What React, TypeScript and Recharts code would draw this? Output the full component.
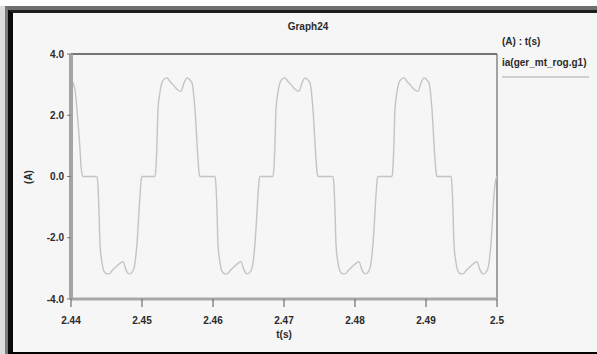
import { Line, LineChart, ReferenceLine, XAxis, YAxis } from "recharts";

// t(s) samples, one row per pulse
const time = [
  2.44, 2.44028, 2.44056, 2.44099, 2.44127, 2.44141, 2.44155, 2.44169,
  2.44366, 2.4438, 2.44394, 2.44408, 2.44436, 2.44465, 2.44507, 2.44535, 2.44577, 2.4462, 2.44676, 2.44732, 2.44774, 2.44817, 2.44845, 2.44887, 2.44929, 2.44972, 2.44986, 2.45,
  2.45183, 2.45197, 2.45211, 2.45225, 2.45253, 2.45282, 2.45324, 2.45352, 2.45394, 2.45437, 2.45493, 2.45549, 2.45591, 2.45634, 2.45662, 2.45704, 2.45746, 2.45789, 2.45803, 2.45817,
  2.46028, 2.46042, 2.46056, 2.4607, 2.46098, 2.46127, 2.46169, 2.46197, 2.46239, 2.46282, 2.46338, 2.46394, 2.46436, 2.46479, 2.46507, 2.46549, 2.46591, 2.46634, 2.46648, 2.46662,
  2.46845, 2.46859, 2.46873, 2.46887, 2.46915, 2.46944, 2.46986, 2.47014, 2.47056, 2.47099, 2.47155, 2.47211, 2.47253, 2.47296, 2.47324, 2.47366, 2.47408, 2.47451, 2.47465, 2.47479,
  2.4769, 2.47704, 2.47718, 2.47732, 2.4776, 2.47789, 2.47831, 2.47859, 2.47901, 2.47944, 2.48, 2.48056, 2.48098, 2.48141, 2.48169, 2.48211, 2.48253, 2.48296, 2.4831, 2.48324,
  2.48521, 2.48535, 2.48549, 2.48563, 2.48591, 2.4862, 2.48662, 2.4869, 2.48732, 2.48775, 2.48831, 2.48887, 2.48929, 2.48972, 2.49, 2.49042, 2.49084, 2.49127, 2.49141, 2.49155,
  2.49352, 2.49366, 2.4938, 2.49394, 2.49422, 2.49451, 2.49493, 2.49521, 2.49563, 2.49606, 2.49662, 2.49718, 2.4976, 2.49803, 2.49831, 2.49873, 2.49915, 2.49958, 2.49978, 2.5,
];

// ia(ger_mt_rog.g1) in A
const current = [
  3.17, 3.05, 2.84, 1.76, 0.88, 0.35, 0.08, 0,
  0, -0.3, -1.1, -2.2, -2.8, -3.1, -3.18, -3.18, -3.08, -2.98, -2.86, -2.78, -3.05, -3.18, -3.16, -3.0, -2.2, -0.6, -0.15, 0,
  0, 0.3, 1.1, 2.2, 2.75, 3.07, 3.2, 3.22, 3.1, 3.0, 2.85, 2.78, 3.05, 3.22, 3.18, 3.05, 2.2, 0.55, 0.15, 0,
  0, -0.3, -1.1, -2.2, -2.8, -3.1, -3.18, -3.18, -3.08, -2.98, -2.86, -2.78, -3.05, -3.18, -3.16, -3.0, -2.2, -0.6, -0.15, 0,
  0, 0.3, 1.1, 2.2, 2.75, 3.07, 3.2, 3.22, 3.1, 3.0, 2.85, 2.78, 3.05, 3.22, 3.18, 3.05, 2.2, 0.55, 0.15, 0,
  0, -0.3, -1.1, -2.2, -2.8, -3.1, -3.18, -3.18, -3.08, -2.98, -2.86, -2.78, -3.05, -3.18, -3.16, -3.0, -2.2, -0.6, -0.15, 0,
  0, 0.3, 1.1, 2.2, 2.75, 3.07, 3.2, 3.22, 3.1, 3.0, 2.85, 2.78, 3.05, 3.22, 3.18, 3.05, 2.2, 0.55, 0.15, 0,
  0, -0.3, -1.1, -2.2, -2.8, -3.1, -3.18, -3.18, -3.08, -2.98, -2.86, -2.78, -3.05, -3.18, -3.16, -3.0, -2.2, -0.6, -0.15, 0,
];

const xTicks = [2.44, 2.45, 2.46, 2.47, 2.48, 2.49, 2.5];
const yTicks = [-4, -2, 0, 2, 4];

const data = time.map((t, k) => ({ t, i: current[k] }));

const font = "'Liberation Sans', Arial, sans-serif";
const tickStyle = { fill: "#2a2a2a", fontSize: 10, fontWeight: 700, fontFamily: font };
const textStyle: React.CSSProperties = {
  position: "absolute",
  fontFamily: font,
  fontSize: 10,
  fontWeight: 700,
  color: "#2a2a2a",
  lineHeight: "12px",
  whiteSpace: "nowrap",
};

export default function App() {
  return (
    <div style={{ position: "absolute", left: 0, top: 0, width: 597, height: 354, background: "#fff", overflow: "hidden" }}>
      <div style={{ position: "absolute", left: 0, top: 6, width: 5, bottom: 0, background: "#dcdcdc" }} />
      <div
        style={{
          position: "absolute",
          left: 5,
          top: 6,
          right: 0,
          bottom: 0,
          borderTop: "4px solid #6e6e6e",
          borderLeft: "3px solid #7a7a7a",
        }}
      >
        <div
          style={{
            position: "absolute",
            inset: 0,
            borderTop: "3px solid #1c1c1c",
            borderLeft: "5px solid #0a0a0a",
            borderBottom: "2px solid #000",
            background: "#f6f6f6",
          }}
        />
      </div>

      <div style={{ ...textStyle, left: 0, width: 616, top: 21, textAlign: "center" }}>Graph24</div>
      <div style={{ ...textStyle, left: 502, top: 36 }}>(A) : t(s)</div>
      <div style={{ ...textStyle, left: 502, top: 57 }}>ia(ger_mt_rog.g1)</div>
      <div style={{ position: "absolute", left: 502, top: 76, width: 87, height: 2, background: "#cfcfcf" }} />
      <div
        style={{
          ...textStyle,
          left: 14,
          top: 171,
          width: 30,
          textAlign: "center",
          transform: "rotate(-90deg)",
        }}
      >
        (A)
      </div>
      <div style={{ ...textStyle, left: 264, width: 40, top: 329, textAlign: "center" }}>t(s)</div>

      <LineChart
        width={597}
        height={354}
        data={data}
        margin={{ top: 54, right: 100, bottom: 25, left: 0 }}
        style={{ position: "absolute", left: 0, top: 0 }}
      >
        <XAxis
          dataKey="t"
          type="number"
          domain={[2.44, 2.5]}
          ticks={xTicks}
          allowDataOverflow
          height={30}
          tickFormatter={(v: number) => String(v)}
          tick={tickStyle}
          tickSize={8}
          tickMargin={10}
          axisLine={{ stroke: "#a8a8a8", strokeWidth: 3 }}
          tickLine={{ stroke: "#555" }}
        />
        <YAxis
          type="number"
          domain={[-4, 4]}
          ticks={yTicks}
          allowDataOverflow
          width={71}
          tickFormatter={(v: number) => v.toFixed(1)}
          tick={tickStyle}
          tickSize={4}
          tickMargin={3}
          axisLine={{ stroke: "#a4a4a4", strokeWidth: 4 }}
          tickLine={{ stroke: "#777" }}
        />
        <ReferenceLine y={4} stroke="#4a4a4a" strokeWidth={1.5} />
        <ReferenceLine x={2.5} stroke="#6a6a6a" strokeWidth={1.2} />
        <Line
          type="monotone"
          dataKey="i"
          stroke="#c4c4c4"
          strokeWidth={1.4}
          dot={false}
          isAnimationActive={false}
        />
      </LineChart>
    </div>
  );
}
